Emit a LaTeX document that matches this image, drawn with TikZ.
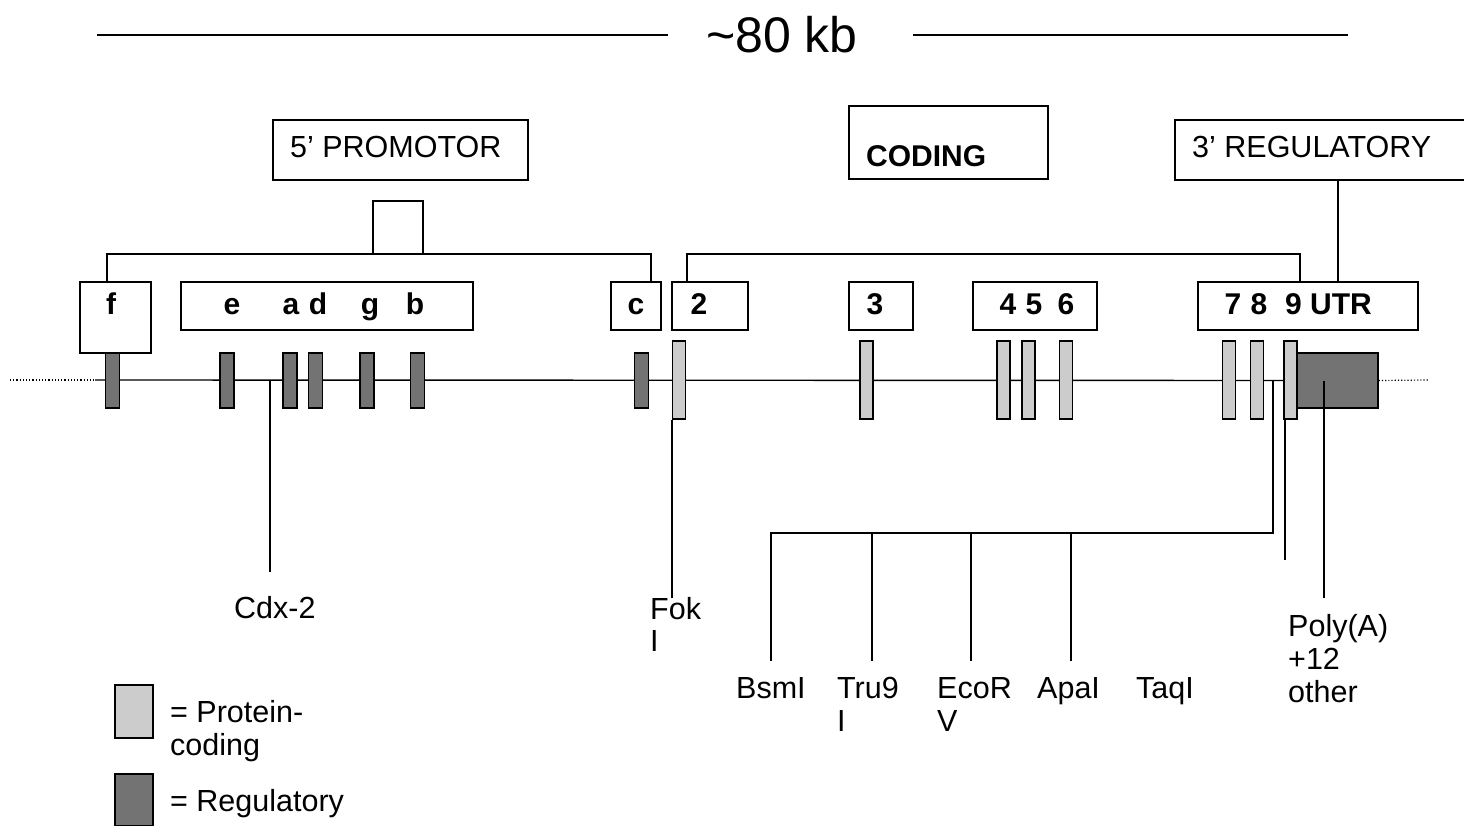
\documentclass[tikz,border=0pt]{standalone}
\usepackage{fontspec}
\setmainfont{Liberation Sans}
\definecolor{protc}{gray}{0.80}
\definecolor{regc}{gray}{0.45}
\begin{document}
\begin{tikzpicture}[x=1pt,y=-1pt,
  box/.style={draw, line width=1.3pt, rectangle, inner sep=0pt},
  lab/.style={font=\fontsize{30.5}{34}\selectfont, inner sep=0pt, anchor=base west},
  blab/.style={font=\fontsize{30}{34}\selectfont\bfseries, inner sep=0pt, anchor=base},
  reg/.style={draw, line width=1.2pt, fill=regc, inner sep=0pt, minimum width=14pt, minimum height=55pt},
  prot/.style={draw, line width=1.2pt, fill=protc, inner sep=0pt, minimum width=13pt, minimum height=78pt},
  ln/.style={line width=1.4pt},
  dot/.style={line width=1.2pt, dotted}]
\useasboundingbox (0,0) rectangle (1464,826);

% title
\node[font=\fontsize{50}{56}\selectfont, inner sep=0pt] (title) at (782,35) {\textasciitilde 80 kb};
\coordinate (tl0) at (97,35); \coordinate (tr0) at (1348,35);
\draw[ln] (tl0) -- ([xshift=-38]title.west);
\draw[ln] ([xshift=55]title.east) -- (tr0);

% region boxes
\node[box, minimum width=255, minimum height=60] (promo) at (400.5,150) {};
\node[lab] (promot) at (290,158) {5' PROMOTOR};
\node[box, minimum width=199, minimum height=73] (coding) at (948.5,142.5) {};
\node[lab, font=\fontsize{30}{34}\selectfont\bfseries] (codingt) at (866,167) {CODING};
\node[box, minimum width=300, minimum height=60] (reg3) at (1325,150) {};
\node[lab] (reg3t) at (1192,158) {3' REGULATORY};
\node[box, minimum width=50, minimum height=53] (sq) at (398,227.5) {};

% exon group boxes
\node[box, minimum width=71, minimum height=71] (fbox) at (115.5,317.5) {};
\node[box, minimum width=292, minimum height=48] (gbox) at (327,306) {};
\node[box, minimum width=50, minimum height=48] (cbox) at (636,306) {};
\node[box, minimum width=76, minimum height=48] (b2) at (710,306) {};
\node[box, minimum width=64, minimum height=48] (b3) at (881,306) {};
\node[box, minimum width=124, minimum height=48] (b456) at (1035,306) {};
\node[box, minimum width=220, minimum height=48] (b789) at (1308,306) {};

\node[blab] (lf) at (111,315) {f};
\node[blab] (le) at (232,315) {e};
\node[blab] (la) at (291,315) {a};
\node[blab] (ld) at (318,315) {d};
\node[blab] (lg) at (370,315) {g};
\node[blab] (lb) at (415,315) {b};
\node[blab] (lc) at (636,315) {c};
\node[blab] (l2) at (699,315) {2};
\node[blab] (l3) at (875,315) {3};
\node[blab] (l4) at (1008,315) {4};
\node[blab] (l5) at (1034,315) {5};
\node[blab] (l6) at (1066,315) {6};
\node[blab] (l7) at (1233,315) {7};
\node[blab] (l8) at (1259,315) {8};
\node[blab, anchor=base west] (l9) at (1285,315) {9 UTR};

% brackets
\coordinate (pL) at (107,254); \coordinate (pR) at (651,254);
\draw[ln] (pL |- fbox.north) -- (pL) -- (pR) -- (pR |- cbox.north);
\coordinate (cL) at (687,254); \coordinate (cR) at (1300,254);
\draw[ln] (cL |- b2.north) -- (cL) -- (cR) -- (cR |- b789.north);
\coordinate (rX) at (1338,200);
\draw[ln] (rX |- reg3.south) -- (rX |- b789.north);

% main line
\coordinate (L0) at (10,380); \coordinate (L1) at (95,380);
\coordinate (R0) at (1428,380);
\node[draw, line width=1.3pt, fill=regc, inner sep=0pt, minimum width=81pt, minimum height=55pt] (utr) at (1337.5,380.5) {};
\draw[dot] (L0) -- (L1);
\draw[ln] (L1) -- (utr.west);
\draw[dot] (utr.east) -- (R0);

% exons
\node[reg] (xf) at (112.5,380.5) {};
\node[reg] (xe) at (227,380.5) {};
\node[reg] (xa) at (290,380.5) {};
\node[reg] (xd) at (315.5,380.5) {};
\node[reg] (xg) at (367,380.5) {};
\node[reg] (xb) at (417.5,380.5) {};
\node[reg] (xc) at (641.5,380.5) {};
\node[prot] (x2) at (679,380) {};
\node[prot] (x3) at (866.5,380) {};
\node[prot] (x4) at (1003.5,380) {};
\node[prot] (x5) at (1028.5,380) {};
\node[prot] (x6) at (1066,380) {};
\node[prot] (x7) at (1229,380) {};
\node[prot] (x8) at (1257,380) {};
\node[prot] (x9) at (1290.5,380) {};

% lower connectors
\coordinate (cdxT) at (270,380); \coordinate (cdxB) at (270,572);
\draw[ln] (cdxT) -- (cdxB);
\coordinate (fokB) at (673,598);
\draw[ln] (x2.south west) -- (x2.south west |- fokB);
\coordinate (rT) at (1273,380); \coordinate (rC) at (1273,533);
\coordinate (r1) at (771,533); \coordinate (r2) at (872,533);
\coordinate (r3) at (971,533); \coordinate (r4) at (1071,533);
\draw[ln] (rT) -- (rC) -- (r1) -- ++(0,128);
\draw[ln] (r2) -- ++(0,128);
\draw[ln] (r3) -- ++(0,128);
\draw[ln] (r4) -- ++(0,128);
\draw[ln] ([xshift=1.5]x9.south west) -- ++(0,140);
\coordinate (pT) at (1324,381); \coordinate (pB) at (1324,598);
\draw[ln] (pT) -- (pB);

% lower labels
\node[lab] (cdx) at (234,618) {Cdx-2};
\node[lab] (fok1) at (650,619) {Fok};
\node[lab] (fok2) at (650,651) {I};
\node[lab] (bsm) at (736,698) {BsmI};
\node[lab] (tru1) at (837,698) {Tru9};
\node[lab] (tru2) at (837,731) {I};
\node[lab] (eco1) at (937,698) {EcoR};
\node[lab] (eco2) at (937,731) {V};
\node[lab] (apa) at (1037,698) {ApaI};
\node[lab] (taq) at (1136,698) {TaqI};
\node[lab] (poly1) at (1288,636) {Poly(A)};
\node[lab] (poly2) at (1288,669) {+12};
\node[lab] (poly3) at (1288,702) {other};

% legend
\node[draw, line width=1.3pt, fill=protc, inner sep=0pt, minimum width=38pt, minimum height=53pt] (legp) at (134,711.5) {};
\node[lab] (legp1) at (170,722) {= Protein-};
\node[lab] (legp2) at (170,755) {coding};
\node[draw, line width=1.3pt, fill=regc, inner sep=0pt, minimum width=38pt, minimum height=52pt] (legr) at (134,800) {};
\node[lab] (legr1) at (170,811) {= Regulatory};
\end{tikzpicture}
\end{document}
